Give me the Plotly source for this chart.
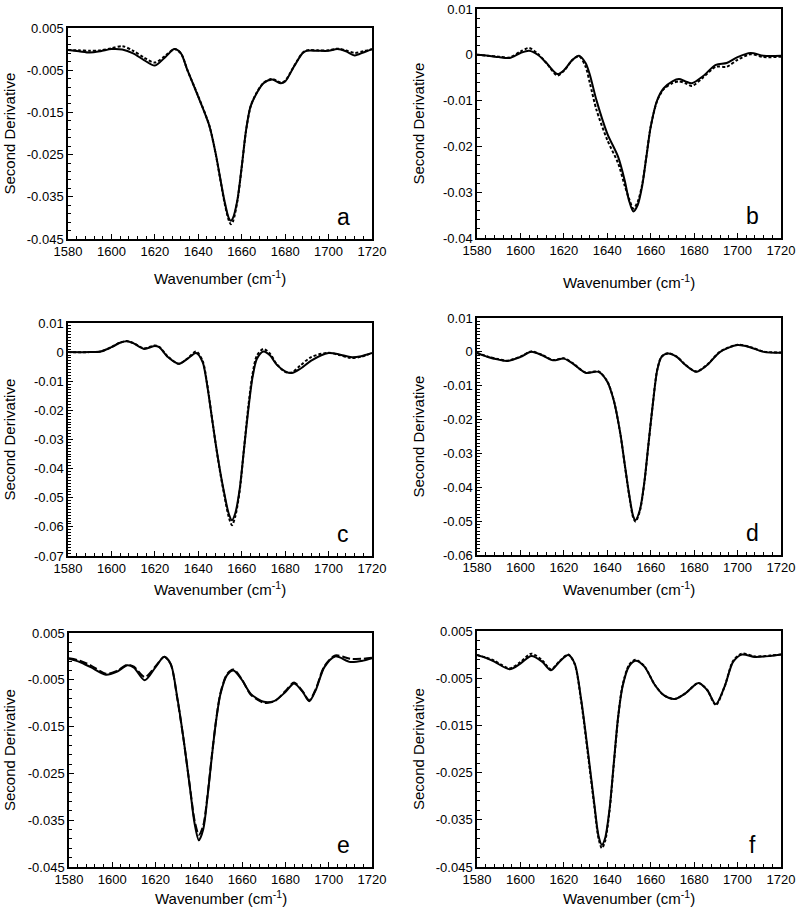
import plotly.graph_objects as go

# ---------------- data ----------------
wn_a = [1580,1585,1590,1595,1600,1605,1610,1615,1620,1625,1629,1632,1635,1640,1645,1648,1650,1652,1654,1655,1656,1658,1660,1662,1664,1666,1670,1674,1678,1680,1684,1688,1690,1695,1700,1704,1708,1712,1716,1720]
a_solid = [-0.0002,-0.0005,-0.0008,-0.0005,0.0000,-0.0001,-0.0010,-0.0026,-0.0039,-0.0018,0.0000,-0.0010,-0.0050,-0.0113,-0.0180,-0.0247,-0.0303,-0.0358,-0.0400,-0.0407,-0.0400,-0.0358,-0.0279,-0.0192,-0.0137,-0.0113,-0.0081,-0.0072,-0.0081,-0.0077,-0.0042,-0.0010,-0.0004,-0.0004,-0.0004,0.0000,-0.0005,-0.0015,-0.0008,0.0000]
a_dashed = [-0.0002,-0.0003,-0.0004,-0.0003,0.0002,0.0007,-0.0004,-0.0020,-0.0032,-0.0015,0.0000,-0.0010,-0.0050,-0.0112,-0.0180,-0.0248,-0.0305,-0.0362,-0.0405,-0.0415,-0.0408,-0.0360,-0.0280,-0.0193,-0.0138,-0.0112,-0.0080,-0.0071,-0.0079,-0.0075,-0.0041,-0.0009,-0.0003,-0.0003,-0.0003,0.0001,-0.0003,-0.0009,-0.0005,0.0000]

wn_b = [1580,1585,1590,1595,1600,1604,1608,1612,1617,1620,1624,1627,1630,1632,1635,1640,1645,1648,1650,1652,1654,1656,1658,1660,1663,1666,1670,1673,1676,1679,1684,1690,1695,1700,1706,1712,1720]
b_solid = [0.0000,-0.0002,-0.0005,-0.0007,0.0004,0.0009,0.0000,-0.0018,-0.0042,-0.0034,-0.0011,-0.0002,-0.0018,-0.0044,-0.0099,-0.0172,-0.0223,-0.0274,-0.0318,-0.0342,-0.0328,-0.0288,-0.0223,-0.0157,-0.0099,-0.0073,-0.0058,-0.0053,-0.0058,-0.0062,-0.0047,-0.0022,-0.0018,-0.0005,0.0004,-0.0002,-0.0002]
b_dashed = [0.0000,-0.0002,-0.0004,-0.0006,0.0007,0.0015,0.0002,-0.0018,-0.0045,-0.0035,-0.0011,-0.0003,-0.0026,-0.0062,-0.0120,-0.0186,-0.0237,-0.0285,-0.0314,-0.0336,-0.0321,-0.0285,-0.0222,-0.0157,-0.0100,-0.0075,-0.0062,-0.0058,-0.0062,-0.0068,-0.0050,-0.0026,-0.0026,-0.0011,0.0001,-0.0005,-0.0004]

wn_c = [1580,1590,1595,1600,1604,1607,1610,1615,1620,1622,1626,1631,1635,1639,1642,1644,1646,1648,1650,1652,1654,1655.5,1657,1659,1661,1663,1665,1667,1670,1673,1676,1680,1683,1687,1692,1700,1705,1710,1715,1720]
c_solid = [0.0000,0.0000,0.0002,0.0017,0.0032,0.0037,0.0031,0.0011,0.0021,0.0017,-0.0017,-0.0040,-0.0023,-0.0003,-0.0034,-0.0109,-0.0211,-0.0314,-0.0406,-0.0486,-0.0554,-0.0577,-0.0554,-0.0474,-0.0337,-0.0200,-0.0086,-0.0023,0.0002,-0.0011,-0.0042,-0.0066,-0.0072,-0.0057,-0.0029,-0.0003,-0.0008,-0.0017,-0.0014,-0.0003]
c_dashed = [0.0000,0.0000,0.0002,0.0017,0.0033,0.0038,0.0032,0.0013,0.0023,0.0018,-0.0015,-0.0040,-0.0022,0.0002,-0.0030,-0.0105,-0.0210,-0.0315,-0.0410,-0.0492,-0.0565,-0.0594,-0.0565,-0.0480,-0.0335,-0.0190,-0.0075,-0.0012,0.0011,-0.0005,-0.0040,-0.0068,-0.0070,-0.0046,-0.0017,-0.0002,-0.0010,-0.0020,-0.0016,-0.0003]

wn_d = [1580,1585,1590,1594,1600,1605,1610,1615,1620,1624,1630,1636,1640,1643,1646,1648,1650,1652,1653,1655,1657,1659,1661,1663,1665,1668,1672,1676,1681,1686,1692,1700,1706,1712,1720]
d_solid = [-0.0003,-0.0015,-0.0023,-0.0027,-0.0015,0.0000,-0.0010,-0.0025,-0.0020,-0.0034,-0.0062,-0.0059,-0.0088,-0.0144,-0.0241,-0.0330,-0.0418,-0.0487,-0.0497,-0.0467,-0.0388,-0.0270,-0.0153,-0.0054,-0.0015,-0.0005,-0.0015,-0.0039,-0.0059,-0.0039,0.0000,0.0020,0.0013,0.0000,-0.0003]
d_dashed = [-0.0003,-0.0014,-0.0022,-0.0026,-0.0014,0.0001,-0.0009,-0.0024,-0.0019,-0.0033,-0.0061,-0.0058,-0.0087,-0.0143,-0.0242,-0.0332,-0.0421,-0.0491,-0.0501,-0.0470,-0.0390,-0.0271,-0.0152,-0.0053,-0.0014,-0.0004,-0.0014,-0.0038,-0.0058,-0.0038,0.0001,0.0021,0.0014,0.0001,-0.0002]

wn_e = [1580,1585,1590,1597,1602,1607,1610,1615,1620,1624,1627,1630,1633,1636,1638,1640,1642,1644,1646,1648,1650,1653,1656,1660,1664,1670,1675,1680,1684,1688,1691,1694,1698,1703,1710,1716,1720]
e_solid = [-0.0005,-0.0012,-0.0023,-0.0039,-0.0033,-0.0019,-0.0024,-0.0051,-0.0023,-0.0001,-0.0016,-0.0087,-0.0179,-0.0285,-0.0356,-0.0393,-0.0370,-0.0300,-0.0214,-0.0136,-0.0080,-0.0040,-0.0030,-0.0051,-0.0080,-0.0097,-0.0095,-0.0076,-0.0058,-0.0076,-0.0096,-0.0072,-0.0023,0.0000,-0.0012,-0.0009,-0.0004]
e_dashed = [-0.0004,-0.0009,-0.0019,-0.0037,-0.0031,-0.0018,-0.0022,-0.0044,-0.0021,-0.0001,-0.0017,-0.0089,-0.0180,-0.0283,-0.0350,-0.0381,-0.0362,-0.0297,-0.0212,-0.0135,-0.0078,-0.0038,-0.0028,-0.0050,-0.0082,-0.0099,-0.0096,-0.0074,-0.0056,-0.0075,-0.0094,-0.0070,-0.0021,0.0002,-0.0005,-0.0005,-0.0003]

wn_f = [1580,1584,1588,1595,1600,1605,1610,1614,1618,1622,1625,1628,1631,1634,1636,1637.5,1639,1641,1643,1645,1647,1650,1653,1657,1662,1666,1671,1676,1682,1686,1690,1694,1698,1702,1708,1715,1720]
f_solid = [-0.0001,-0.0007,-0.0015,-0.0031,-0.0019,-0.0003,-0.0015,-0.0033,-0.0015,-0.0001,-0.0019,-0.0096,-0.0202,-0.0315,-0.0385,-0.0403,-0.0389,-0.0329,-0.0230,-0.0132,-0.0068,-0.0025,-0.0013,-0.0025,-0.0065,-0.0086,-0.0094,-0.0082,-0.0060,-0.0075,-0.0105,-0.0068,-0.0015,0.0000,-0.0005,-0.0003,0.0000]
f_dashed = [-0.0001,-0.0006,-0.0013,-0.0029,-0.0016,0.0002,-0.0012,-0.0031,-0.0014,0.0000,-0.0020,-0.0100,-0.0208,-0.0320,-0.0390,-0.0410,-0.0395,-0.0332,-0.0232,-0.0133,-0.0066,-0.0022,-0.0011,-0.0024,-0.0065,-0.0086,-0.0094,-0.0082,-0.0060,-0.0075,-0.0107,-0.0068,-0.0013,0.0002,-0.0004,-0.0002,0.0000]

x_ticks = [1580, 1600, 1620, 1640, 1660, 1680, 1700, 1720]
y_ticks_005 = [0.005, -0.005, -0.015, -0.025, -0.035, -0.045]
y_text_005 = ["0.005", "-0.005", "-0.015", "-0.025", "-0.035", "-0.045"]
y_ticks_b = [0.01, 0, -0.01, -0.02, -0.03, -0.04]
y_text_b = ["0.01", "0", "-0.01", "-0.02", "-0.03", "-0.04"]
y_ticks_c = [0.01, 0, -0.01, -0.02, -0.03, -0.04, -0.05, -0.06, -0.07]
y_text_c = ["0.01", "0", "-0.01", "-0.02", "-0.03", "-0.04", "-0.05", "-0.06", "-0.07"]
y_ticks_d = [0.01, 0, -0.01, -0.02, -0.03, -0.04, -0.05, -0.06]
y_text_d = ["0.01", "0", "-0.01", "-0.02", "-0.03", "-0.04", "-0.05", "-0.06"]
panel_labels = ["a", "b", "c", "d", "e", "f"]

# ---------------- layout geometry (pixels) ----------------
W, H = 798, 910
FONT = "Liberation Sans, Arial, Helvetica, sans-serif"

panels = [
    (wn_a, a_solid, a_dashed, y_ticks_005, y_text_005, [-0.045, 0.005], 0.002, (68, 372, 28, 239), "3px,2px"),
    (wn_b, b_solid, b_dashed, y_ticks_b, y_text_b, [-0.04, 0.01], 0.002, (477, 781, 9, 238), "3px,2px"),
    (wn_c, c_solid, c_dashed, y_ticks_c, y_text_c, [-0.07, 0.01], 0.001, (68, 372, 323, 556), "3px,2px"),
    (wn_d, d_solid, d_dashed, y_ticks_d, y_text_d, [-0.06, 0.01], 0.001, (477, 781, 318, 555), "3px,2px"),
    (wn_e, e_solid, e_dashed, y_ticks_005, y_text_005, [-0.045, 0.005], 0.002, (69, 372, 633, 867), "8px,3px"),
    (wn_f, f_solid, f_dashed, y_ticks_005, y_text_005, [-0.045, 0.005], 0.002, (477, 781, 631, 867), "3px,2px"),
]

fig = go.Figure()
layout = dict(
    template="none",
    width=W, height=H, margin=dict(l=0, r=0, t=0, b=0, autoexpand=False),
    paper_bgcolor="white", plot_bgcolor="white", showlegend=False,
    font=dict(family=FONT, size=13, color="black"),
)
annotations = []

for i, (xs, ys, yd, yt, ytt, yr, ymin, box, dash) in enumerate(panels):
    n = i + 1
    xa = "x" if n == 1 else f"x{n}"
    ya = "y" if n == 1 else f"y{n}"
    l, r, t, b = box
    fig.add_trace(go.Scatter(x=xs, y=yd, mode="lines", xaxis=xa, yaxis=ya,
                             line=dict(color="black", width=2, dash=dash, shape="spline", smoothing=0.8)))
    fig.add_trace(go.Scatter(x=xs, y=ys, mode="lines", xaxis=xa, yaxis=ya,
                             line=dict(color="black", width=2, shape="spline", smoothing=0.8)))
    common = dict(showgrid=False, zeroline=False, showline=True, linecolor="black", linewidth=1.5,
                  mirror=True, ticks="inside", ticklen=5, tickwidth=1, tickcolor="black", automargin=False,
                  tickfont=dict(family=FONT, size=13, color="black"))
    layout["xaxis" if n == 1 else f"xaxis{n}"] = dict(
        common, domain=[l / W, r / W], anchor=ya, range=[1580, 1720],
        tickmode="array", tickvals=x_ticks, ticktext=[str(v) for v in x_ticks],
        minor=dict(ticks="inside", ticklen=3, tick0=1580, dtick=4, tickcolor="black", tickwidth=1),
    )
    layout["yaxis" if n == 1 else f"yaxis{n}"] = dict(
        common, domain=[1 - b / H, 1 - t / H], anchor=xa, range=yr,
        tickmode="array", tickvals=yt, ticktext=ytt,
        minor=dict(ticks="inside", ticklen=3, tick0=yt[0], dtick=ymin, tickcolor="black", tickwidth=1),
    )
    cx = (l + r) / 2
    title_y = {1: 277, 2: 281, 3: 588, 4: 588, 5: 897, 6: 897}[n]
    annotations.append(dict(text="Wavenumber (cm<sup>-1</sup>)", xref="paper", yref="paper",
                            x=cx / W, y=1 - title_y / H, showarrow=False, xanchor="center", yanchor="middle",
                            font=dict(family=FONT, size=15, color="black")))
    ty_x = 9 if l < 200 else 418
    annotations.append(dict(text="Second Derivative", xref="paper", yref="paper", textangle=-90,
                            x=ty_x / W, y=1 - ((t + b) / 2) / H, showarrow=False,
                            xanchor="center", yanchor="middle",
                            font=dict(family=FONT, size=15, color="black")))
    annotations.append(dict(text=panel_labels[i], xref="paper", yref="paper",
                            x=(r - 29) / W, y=1 - (b - 22) / H, showarrow=False,
                            xanchor="center", yanchor="middle",
                            font=dict(family=FONT, size=23, color="black")))

layout["annotations"] = annotations
fig.update_layout(**layout)
fig.write_html(
    "out.html",
    config={"displayModeBar": False},
    post_script="document.body.style.margin='0';document.body.style.overflow='hidden';",
)
